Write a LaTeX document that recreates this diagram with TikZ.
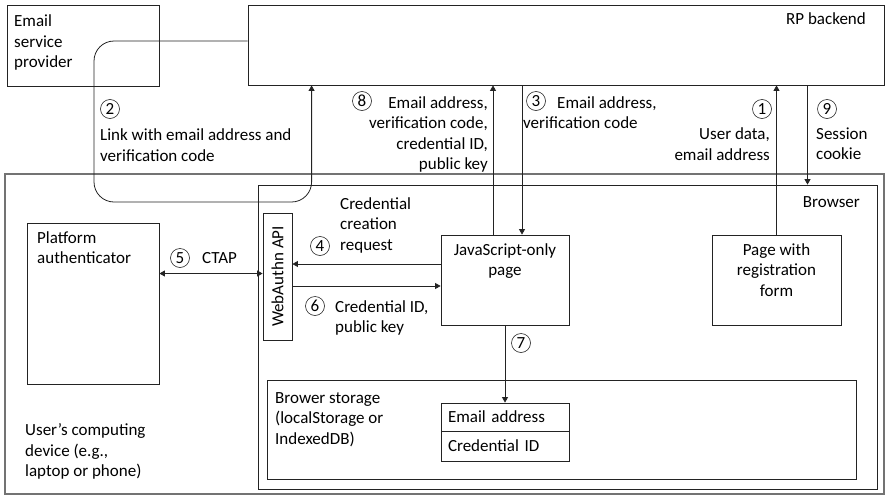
\documentclass[tikz,border=0pt]{standalone}
\usepackage{fontspec}
\setmainfont{Carlito}
\usetikzlibrary{arrows.meta}
\definecolor{lineink}{RGB}{35,35,35}
\definecolor{devgray}{RGB}{115,115,115}

\begin{document}
\begin{tikzpicture}[x=1pt,y=-1pt,
  font=\fontsize{17}{20.5}\selectfont,
  box/.style={draw=lineink,line width=0.8pt,inner sep=0pt},
  lbl/.style={inner sep=0pt},
  stepnum/.style={circle,draw=lineink,line width=0.6pt,inner sep=0pt,minimum size=19pt},
  flow/.style={draw=lineink,line width=0.8pt,-{Triangle[length=5.5pt,width=6pt]}}]
  \useasboundingbox (0,0) rectangle (886,498);

  % outer boxes
  \node[box,draw=devgray,line width=1.1pt,minimum width=879pt,minimum height=320pt] (dev) at (444.5,334) {};
  \node[box,minimum width=619pt,minimum height=304pt] (browser) at (567.5,337) {};
  \node[box,minimum width=152pt,minimum height=81pt] (esp) at (83,45.5) {};
  \node[box,minimum width=636pt,minimum height=80pt] (rp) at (566,45) {};

  % inner boxes
  \node[box,minimum width=132pt,minimum height=161pt] (plat) at (93,303.5) {};
  \node[box,minimum width=29pt,minimum height=127pt] (wa) at (277.5,276.5) {};
  \node[lbl,rotate=90] (waText) at (wa.center) {WebAuthn API};
  \node[box,minimum width=128pt,minimum height=90pt] (js) at (505,280) {};
  \node[box,minimum width=129pt,minimum height=90pt] (reg) at (776.5,280) {};
  \node[box,minimum width=589pt,minimum height=99pt] (store) at (561.5,429.5) {};
  \node[box,minimum width=128pt,minimum height=28pt,text width=114pt,inner xsep=7pt,align=left] (tEmail) at (505,417) {Email address};
  \node[box,minimum width=128pt,minimum height=30pt,text width=114pt,inner xsep=7pt,align=left] (tCred) at (505,446) {Credential ID};

  % box texts
  \node[lbl,anchor=north west,align=left] (espText) at (14,14.5) {Email\\service\\provider};
  \node[lbl,anchor=north east] (rpText) at (866,12) {RP backend};
  \node[lbl,anchor=north east] (browserText) at (860,196) {Browser};
  \node[lbl,anchor=north west,align=left] (platText) at (37,231) {Platform\\authenticator};
  \node[lbl,anchor=north,align=center] (jsText) at (505,243) {JavaScript-only\\page};
  \node[lbl,anchor=north,align=center] (regText) at (776.5,243) {Page with\\registration\\form};
  \node[lbl,anchor=north west,align=left] (storeText) at (275,392) {Brower storage\\(localStorage or\\IndexedDB)};
  \node[lbl,anchor=north west,align=left] (devText) at (25,423.5) {User’s computing\\device (e.g.,\\laptop or phone)};

  % connectors
  \coordinate (loop2) at (94,202);
  \draw[flow,rounded corners=20pt] ([yshift=4pt]rp.west) -| (loop2) -| ([xshift=64pt]rp.south west);
  \draw[flow] ([xshift=-12pt]js.north) -- ([xshift=-12pt]js.north |- rp.south);
  \draw[flow] ([xshift=17pt]js.north |- rp.south) -- ([xshift=17pt]js.north);
  \draw[flow] (reg.north) -- (reg.north |- rp.south);
  \draw[flow] ([xshift=31pt]reg.north |- rp.south) -- ([xshift=31pt]reg.north |- browser.north);
  \draw[flow] ([yshift=16pt]js.west) -- ([yshift=16pt]js.west -| wa.east);
  \draw[flow] ([yshift=-6pt]js.west -| wa.east) -- ([yshift=-6pt]js.west);
  \draw[flow,{Triangle[length=5.5pt,width=6pt]}-{Triangle[length=5.5pt,width=6pt]}] ([yshift=3pt]wa.west -| plat.east) -- ([yshift=3pt]wa.west);
  \draw[flow] (js.south) -- (tEmail.north);

  % step numbers and labels
  \node[stepnum] (s1) at (762,109) {1};
  \node[lbl,anchor=north east,align=right] (l1) at (770,127.5) {User data,\\email address};
  \node[stepnum] (s2) at (110,109) {2};
  \node[lbl,anchor=north west,align=left] (l2) at (100,128.5) {Link with email address and\\verification code};
  \node[stepnum] (s3) at (536,101) {3};
  \node[lbl,anchor=north west,align=left] (l3) at (523,96) {\hspace*{34pt}Email address,\\verification code};
  \node[stepnum] (s4) at (320,246) {4};
  \node[lbl,anchor=north west,align=left] (l4) at (340,197) {Credential\\creation\\request};
  \node[stepnum] (s5) at (180,258) {5};
  \node[lbl,anchor=north west] (l5) at (202,252) {CTAP};
  \node[stepnum] (s6) at (315,306) {6};
  \node[lbl,anchor=north west,align=left] (l6) at (335,300) {Credential ID,\\public key};
  \node[stepnum] (s7) at (521,343) {7};
  \node[stepnum] (s8) at (362,101) {8};
  \node[lbl,anchor=north east,align=right] (l8) at (488,96) {Email address,\\verification code,\\credential ID,\\public key};
  \node[stepnum] (s9) at (827,109) {9};
  \node[lbl,anchor=north west,align=left] (l9) at (816,127.5) {Session\\cookie};
\end{tikzpicture}
\end{document}
